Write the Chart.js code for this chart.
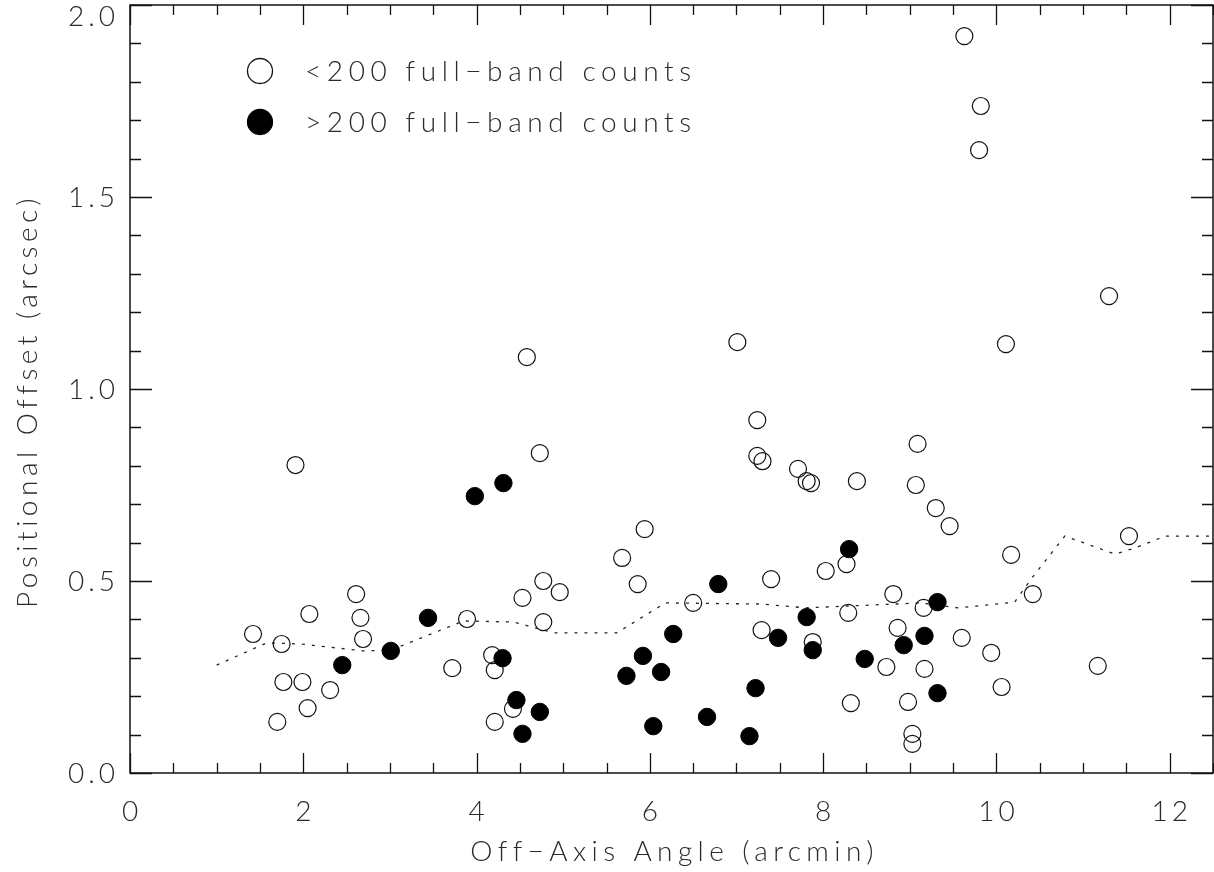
<!DOCTYPE html>
<html>
<head>
<meta charset="utf-8">
<script src="https://cdn.jsdelivr.net/npm/chart.js@4/dist/chart.umd.min.js"></script>
<style>
  body { margin: 0; background: #fff; }
  canvas { display: block; }
</style>
</head>
<body>
<canvas id="offsetChart" width="1214" height="872"></canvas>
<script>
// sources with fewer than 200 full-band counts (open circles)
const faintX = [9.63, 9.82, 9.80, 11.30, 10.11, 7.01, 4.58, 7.24, 9.09, 4.73, 1.91, 7.24, 7.30, 7.71,
  7.81, 7.86, 8.39, 9.07, 9.30, 9.46, 5.94, 11.53, 10.17, 5.68, 8.27, 8.03, 4.77, 7.40, 5.86, 4.96,
  2.61, 4.53, 8.81, 10.42, 6.50, 9.16, 8.29, 2.07, 2.66, 3.89, 4.77, 1.42, 8.86, 7.29, 2.69, 1.75,
  7.88, 9.60, 9.94, 4.18, 3.72, 4.21, 8.73, 9.17, 11.17, 1.77, 1.99, 2.31, 10.06, 2.05, 8.98, 8.32,
  4.42, 4.21, 1.70, 9.03, 9.03];
const faintY = [1.919, 1.737, 1.622, 1.242, 1.117, 1.122, 1.083, 0.919, 0.857, 0.833, 0.802, 0.826, 0.812, 0.792,
  0.760, 0.755, 0.760, 0.750, 0.690, 0.643, 0.635, 0.617, 0.568, 0.560, 0.544, 0.526, 0.500, 0.505, 0.492, 0.471,
  0.466, 0.456, 0.466, 0.466, 0.443, 0.430, 0.417, 0.414, 0.404, 0.401, 0.393, 0.362, 0.378, 0.372, 0.349, 0.336,
  0.341, 0.352, 0.313, 0.307, 0.273, 0.268, 0.276, 0.271, 0.279, 0.237, 0.237, 0.216, 0.224, 0.169, 0.185, 0.182,
  0.167, 0.133, 0.133, 0.102, 0.076];

// sources with more than 200 full-band counts (filled circles)
const brightX = [3.98, 4.31, 8.30, 6.79, 9.32, 3.44, 7.81, 6.27, 7.48, 9.17, 3.01, 7.88, 8.93, 5.92,
  8.48, 2.45, 4.30, 5.73, 6.13, 7.22, 4.46, 9.32, 4.73, 4.53, 6.04, 6.66, 7.15];
const brightY = [0.721, 0.755, 0.583, 0.492, 0.445, 0.404, 0.406, 0.362, 0.352, 0.357, 0.318, 0.320, 0.333, 0.305,
  0.297, 0.281, 0.299, 0.253, 0.263, 0.221, 0.190, 0.208, 0.159, 0.102, 0.122, 0.146, 0.096];

// dotted reference curve
const curveX = [1.00, 1.58, 1.97, 2.69, 3.01, 3.85, 4.43, 4.89, 5.62, 6.18, 7.29, 7.80, 9.13, 9.56,
  10.21, 10.41, 10.79, 11.37, 11.60, 11.95, 12.5];
const curveY = [0.281, 0.339, 0.336, 0.318, 0.320, 0.396, 0.393, 0.365, 0.365, 0.443, 0.440, 0.430, 0.443, 0.430,
  0.445, 0.508, 0.617, 0.570, 0.586, 0.617, 0.617];

const xTicks = [0, 2, 4, 6, 8, 10, 12];
const yTicks = [0, 0.5, 1.0, 1.5, 2.0];
const xLabel = 'Off\u2212Axis Angle (arcmin)';
const yLabel = 'Positional Offset (arcsec)';
const faintLabel = '<200 full\u2212band counts';
const brightLabel = '>200 full\u2212band counts';

const ink = '#111';
const textInk = '#2a2a2a';
const textFont = '300 28px Lato, "DejaVu Sans", sans-serif';

const toPoints = (xs, ys) => xs.map((x, i) => ({x: x, y: ys[i]}));

// frame with inward ticks on all four sides, tick labels, axis titles and the legend
const decor = {
  id: 'decor',
  afterDatasetsDraw(chart) {
    const ctx = chart.ctx;
    const area = chart.chartArea;
    const xs = chart.scales.x;
    const ys = chart.scales.y;

    ctx.save();
    ctx.strokeStyle = ink;
    ctx.lineWidth = 1.5;
    ctx.strokeRect(area.left, area.top, area.right - area.left, area.bottom - area.top);

    ctx.lineWidth = 1.3;
    ctx.beginPath();
    for (let v = xs.min; v <= xs.max + 1e-9; v += 0.5) {
      const px = Math.round(xs.getPixelForValue(v)) + 0.5;
      const len = xTicks.includes(v) ? 20 : 10;
      ctx.moveTo(px, area.bottom); ctx.lineTo(px, area.bottom - len);
      ctx.moveTo(px, area.top); ctx.lineTo(px, area.top + len);
    }
    for (let i = 0; i <= 20; i++) {
      const v = i / 10;
      const py = Math.round(ys.getPixelForValue(v)) + 0.5;
      const len = i % 5 === 0 ? 22 : 11;
      ctx.moveTo(area.left, py); ctx.lineTo(area.left + len, py);
      ctx.moveTo(area.right, py); ctx.lineTo(area.right - len, py);
    }
    ctx.stroke();

    ctx.fillStyle = textInk;
    ctx.font = textFont;
    ctx.textBaseline = 'alphabetic';

    ctx.letterSpacing = '4px';
    ctx.textAlign = 'center';
    xTicks.forEach(v => ctx.fillText(String(v), xs.getPixelForValue(v) + 2, 821));

    ctx.textAlign = 'right';
    yTicks.forEach(v => {
      const py = Math.max(ys.getPixelForValue(v), 16);
      ctx.fillText(v.toFixed(1), 119, py + 10);
    });

    ctx.letterSpacing = '5.4px';
    ctx.textAlign = 'center';
    ctx.fillText(xLabel, (area.left + area.right) / 2 + 3, 861);

    ctx.save();
    ctx.letterSpacing = '4.5px';
    ctx.translate(37, (area.top + area.bottom) / 2 + 12);
    ctx.rotate(-Math.PI / 2);
    ctx.textAlign = 'center';
    ctx.fillText(yLabel, 0, 0);
    ctx.restore();

    // legend
    ctx.letterSpacing = '5.6px';
    const entries = [[faintLabel, chart.data.datasets[0], 71], [brightLabel, chart.data.datasets[1], 122]];
    entries.forEach(([label, ds, cy]) => {
      ctx.beginPath();
      ctx.arc(260, cy, 12.5, 0, Math.PI * 2);
      ctx.lineWidth = 1.3;
      ctx.strokeStyle = ds.borderColor;
      if (ds.backgroundColor !== 'rgba(0,0,0,0)') {
        ctx.fillStyle = ds.backgroundColor;
        ctx.fill();
      }
      ctx.stroke();
      ctx.fillStyle = textInk;
      ctx.textAlign = 'left';
      ctx.fillText(label, 305, cy + 10);
    });
    ctx.restore();
  }
};

new Chart(document.getElementById('offsetChart'), {
  type: 'scatter',
  data: {
    datasets: [
      {
        label: faintLabel,
        data: toPoints(faintX, faintY),
        pointRadius: 8.5,
        borderWidth: 1.2,
        borderColor: ink,
        backgroundColor: 'rgba(0,0,0,0)',
        order: 1
      },
      {
        label: brightLabel,
        data: toPoints(brightX, brightY),
        pointRadius: 8.7,
        borderWidth: 1,
        borderColor: '#000',
        backgroundColor: '#000',
        order: 0
      },
      {
        label: 'curve',
        data: toPoints(curveX, curveY),
        showLine: true,
        pointRadius: 0,
        borderColor: '#222',
        borderWidth: 1.3,
        borderDash: [3, 7],
        order: 2
      }
    ]
  },
  options: {
    responsive: false,
    animation: false,
    layout: { autoPadding: false, padding: { top: 5, right: 1, left: 0, bottom: 0 } },
    plugins: { legend: { display: false }, tooltip: { enabled: false } },
    scales: {
      x: {
        type: 'linear',
        min: 0,
        max: 12.5,
        grid: { display: false, drawTicks: false },
        border: { display: false },
        ticks: { display: false },
        afterFit(scale) { scale.height = 99; }
      },
      y: {
        type: 'linear',
        min: 0,
        max: 2,
        grid: { display: false, drawTicks: false },
        border: { display: false },
        ticks: { display: false },
        afterFit(scale) { scale.width = 130; }
      }
    }
  },
  plugins: [decor]
});
</script>
</body>
</html>
